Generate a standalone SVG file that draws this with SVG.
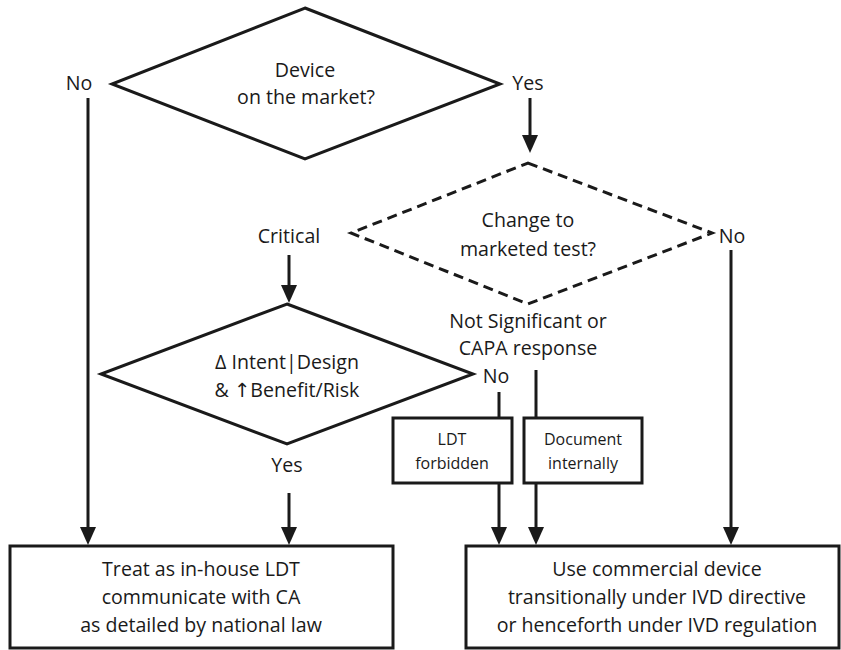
<svg xmlns="http://www.w3.org/2000/svg" width="841" height="650" viewBox="0 0 841 650">
<style>
.shape{fill:#fff;stroke:#1a1a1a;stroke-width:3}
.dash{fill:#fff;stroke:#1a1a1a;stroke-width:3;stroke-dasharray:10 6}
.conn line{stroke:#1a1a1a;stroke-width:3}
text{font-family:"Open Sans","DejaVu Sans",sans-serif;font-size:19.6px;fill:#1a1a1a;text-anchor:middle}
.sm{font-size:16px}
</style>
<defs>
<marker id="arr" viewBox="0 0 18 16" refX="8" refY="8" markerWidth="18" markerHeight="16" markerUnits="userSpaceOnUse" orient="auto">
<path d="M0,0 L18,8 L0,16 z" fill="#1a1a1a"/>
</marker>
</defs>
<rect width="841" height="650" fill="#fff"/>
<g id="q1">
<polygon class="shape" points="305,8 500,84 305,159 112,84"/>
<text x="305" y="77">Device</text>
<text x="306" y="104">on the market?</text>
</g>
<g id="q2">
<polygon class="dash" points="528,163 712,233 528,304 351,233"/>
<text x="528" y="227">Change to</text>
<text x="528" y="256">marketed test?</text>
</g>
<g id="q3">
<polygon class="shape" points="287,304 473,374 287,444 101,374"/>
<text x="287" y="369">Δ Intent|Design</text>
<text x="287" y="397">&amp; ↑Benefit/Risk</text>
</g>
<g id="ldt">
<rect class="shape" x="393" y="418" width="119" height="65"/>
<text class="sm" x="452" y="445">LDT</text>
<text class="sm" x="452" y="469">forbidden</text>
</g>
<g id="doc">
<rect class="shape" x="524" y="418" width="118" height="65"/>
<text class="sm" x="583" y="445">Document</text>
<text class="sm" x="583" y="469">internally</text>
</g>
<g id="inhouse">
<rect class="shape" x="10" y="546" width="383" height="102"/>
<text x="201" y="576">Treat as in-house LDT</text>
<text x="201" y="604">communicate with CA</text>
<text x="201" y="632">as detailed by national law</text>
</g>
<g id="commercial">
<rect class="shape" x="466" y="546" width="373" height="102"/>
<text x="657" y="576">Use commercial device</text>
<text x="657" y="604">transitionally under IVD directive</text>
<text x="657" y="632">or henceforth under IVD regulation</text>
</g>
<g id="labels">
<text x="79" y="90">No</text>
<text x="528" y="90">Yes</text>
<text x="289" y="243">Critical</text>
<text x="732" y="243">No</text>
<text x="528" y="328">Not Significant or</text>
<text x="528" y="355">CAPA response</text>
<text x="496" y="383">No</text>
<text x="287" y="472">Yes</text>
</g>
<g class="conn" id="connectors">
<line x1="88" y1="98" x2="88" y2="535" marker-end="url(#arr)"/>
<line x1="530" y1="98" x2="530" y2="143" marker-end="url(#arr)"/>
<line x1="289" y1="255" x2="289" y2="293" marker-end="url(#arr)"/>
<line x1="731" y1="250" x2="731" y2="535" marker-end="url(#arr)"/>
<line x1="499" y1="392" x2="499" y2="418"/>
<line x1="536" y1="370" x2="536" y2="418"/>
<line x1="499" y1="483" x2="499" y2="535" marker-end="url(#arr)"/>
<line x1="536" y1="483" x2="536" y2="535" marker-end="url(#arr)"/>
<line x1="289" y1="493" x2="289" y2="535" marker-end="url(#arr)"/>
</g>
</svg>
